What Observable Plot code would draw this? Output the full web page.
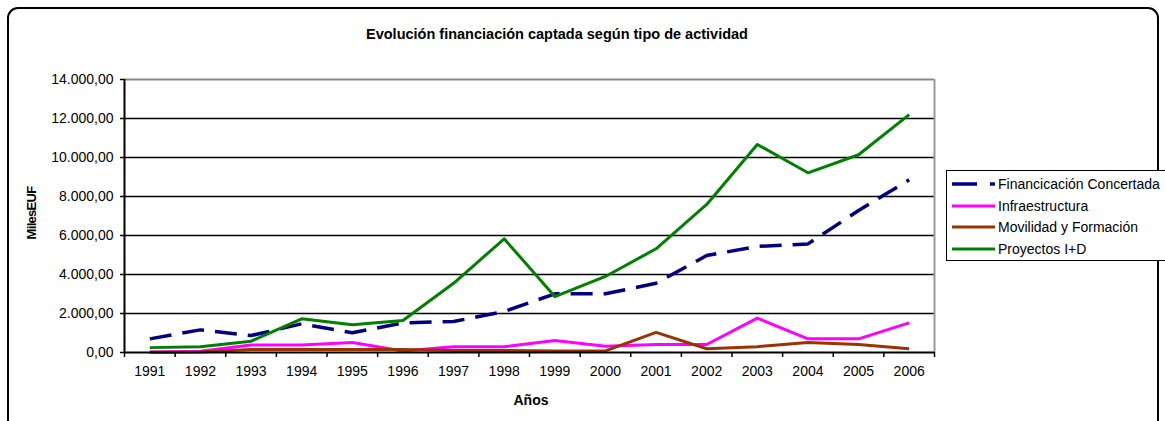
<!DOCTYPE html>
<html><head><meta charset="utf-8">
<script src="https://cdn.jsdelivr.net/npm/d3@7"></script>
<script src="https://cdn.jsdelivr.net/npm/@observablehq/plot@0.6"></script>
<style>
html,body{margin:0;padding:0;background:#fff;}
#wrap{position:relative;width:1165px;height:421px;overflow:hidden;font-family:"Liberation Sans",Arial,sans-serif;}
#frame{position:absolute;left:7px;top:7px;width:1152px;height:440px;border:2px solid #000;border-radius:11px;box-sizing:border-box;}
#title{position:absolute;left:0;width:1114px;top:26px;text-align:center;font-weight:bold;font-size:14.5px;}
#ylab{position:absolute;left:31px;top:213px;transform:translate(-50%,-50%) rotate(-90deg);font-weight:bold;font-size:13px;white-space:nowrap;letter-spacing:-0.7px;word-spacing:-3px;}
#xlab{position:absolute;left:531px;top:392px;transform:translateX(-50%);font-weight:bold;font-size:14px;}
#legend{position:absolute;left:946px;top:170px;width:240px;height:91px;border:1.5px solid #000;box-sizing:border-box;background:#fff;}
.li{position:absolute;left:4px;height:20px;display:flex;align-items:center;font-size:14px;white-space:nowrap;}
.li svg{margin-right:3px;}
#chart{position:absolute;left:0;top:0;}
</style></head>
<body><div id="wrap"><div id="chart"></div><div id="frame"></div>
<div id="title">Evolución financiación captada según tipo de actividad</div>
<div id="ylab">Miles EUF</div>
<div id="xlab">Años</div>
<div id="legend"></div>
</div>
<script>
const years = [1991,1992,1993,1994,1995,1996,1997,1998,1999,2000,2001,2002,2003,2004,2005,2006];
const seriesNames = ["Financicación Concertada","Infraestructura","Movilidad y Formación","Proyectos I+D"];
const financiacion = [700,1160,870,1470,1010,1520,1590,2100,3010,3010,3550,4970,5440,5570,7280,8860];
const infraestructura = [20,60,390,390,510,80,300,300,620,320,410,410,1760,700,700,1520];
const movilidad = [10,20,150,150,150,150,100,100,80,80,1030,190,300,510,410,190];
const proyectos = [250,300,580,1730,1420,1640,3550,5830,2870,3900,5320,7590,10670,9215,10140,12200];
const yTicks = [0,2000,4000,6000,8000,10000,12000,14000];

const colors = ["#000080","#FF00FF","#993300","#008000"];
const widths = [3.5,3,3,3];
const dashes = ["22,11",null,null,null];
const values = [financiacion,infraestructura,movilidad,proyectos];

const loc = d3.formatLocale({decimal:",",thousands:".",grouping:[3],currency:["","€"]});
const fmt = loc.format(",.2f");

const tables = values.map((vals,i)=>years.map((y,j)=>({year:y,value:vals[j],serie:seriesNames[i]})));
const bounds = [years[0]-0.5, ...years.map(y=>y+0.5)];
const xMin = years[0]-0.5, xMax = years[years.length-1]+0.5;
const yMax = yTicks[yTicks.length-1];

const chart = Plot.plot({
  width:1165, height:421,
  marginLeft:124, marginRight:231, marginTop:79, marginBottom:69,
  style:{fontFamily:"Liberation Sans, Arial, sans-serif", fontSize:"14px", color:"#000", background:"transparent"},
  x:{domain:[xMin,xMax]},
  y:{domain:[0,yMax]},
  marks:[
    Plot.ruleY(yTicks.filter(t=>t>0 && t<yMax),{stroke:"#000",strokeWidth:1.4}),
    Plot.ruleY([yMax],{stroke:"#888",strokeWidth:2}),
    Plot.ruleX([xMax],{y1:0,y2:yMax,stroke:"#999",strokeWidth:2}),
    ...tables.map((t,i)=>Plot.line(t,{x:"year",y:"value",stroke:colors[i],strokeWidth:widths[i],strokeDasharray:dashes[i],strokeLinecap:"butt",strokeLinejoin:"round"})),
    Plot.axisY({ticks:yTicks,tickFormat:fmt,tickSize:4,tickPadding:7,label:null,strokeWidth:1.5,fontSize:14}),
    Plot.axisX({ticks:years,tickFormat:d=>String(d),tickSize:0,tickPadding:14,label:null,fontSize:14}),
    Plot.axisX({ticks:bounds,tickFormat:()=>"",tickSize:5,label:null,strokeWidth:1.5}),
    Plot.ruleY([0],{stroke:"#000",strokeWidth:2}),
    Plot.ruleX([xMin],{y1:0,y2:yMax,stroke:"#000",strokeWidth:2})
  ]
});
document.getElementById("chart").appendChild(chart);

const leg = document.getElementById("legend");
seriesNames.forEach((n,i)=>{
  const d = document.createElement("div");
  d.className="li";
  d.style.top = (3+i*21.5)+"px";
  d.innerHTML = `<svg width="44" height="8"><line x1="1" x2="44" y1="4" y2="4" stroke="${colors[i]}" stroke-width="${widths[i]}" ${dashes[i]?`stroke-dasharray="25,13"`:""}/></svg><span>${n}</span>`;
  leg.appendChild(d);
});
</script></body></html>
